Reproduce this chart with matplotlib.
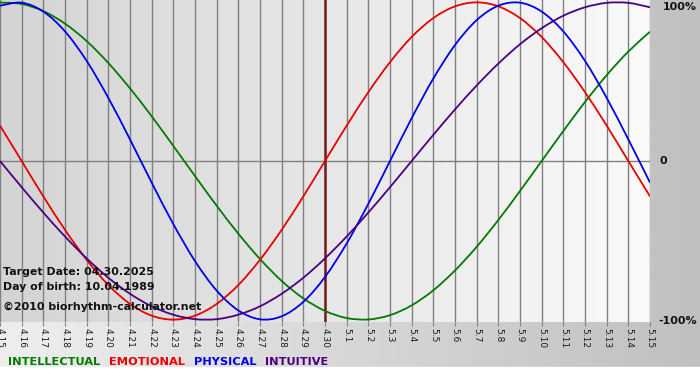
import numpy as np
import matplotlib
matplotlib.use("Agg")
import matplotlib.pyplot as plt
from matplotlib.path import Path
from matplotlib.patches import PathPatch

# days shown on the x axis (4.15 .. 5.15, target date 4.30)
day_labels = [f"4.{d}" for d in range(15, 31)] + [f"5.{d}" for d in range(1, 16)]
target_index = 15

# cycle values in percent, one per day
intellectual = [99.9, 99.0, 94.5, 86.6, 75.6, 61.8, 45.8, 28.2, 9.5, -9.5, -28.2,
                -45.8, -61.8, -75.6, -86.6, -94.5, -99.0, -99.9, -97.2, -91.0, -81.5,
                -69.0, -54.1, -37.2, -18.9, 0.0, 18.9, 37.2, 54.1, 69.0, 81.5]
emotional = [22.3, 0.0, -22.3, -43.4, -62.3, -78.2, -90.1, -97.5, -100.0, -97.5, -90.1,
             -78.2, -62.3, -43.4, -22.3, 0.0, 22.3, 43.4, 62.3, 78.2, 90.1,
             97.5, 100.0, 97.5, 90.1, 78.2, 62.3, 43.4, 22.3, 0.0, -22.3]
physical = [97.9, 99.8, 94.2, 81.7, 63.1, 39.8, 13.6, -13.6, -39.8, -63.1, -81.7,
            -94.2, -99.8, -97.9, -88.8, -73.1, -52.0, -27.0, 0.0, 27.0, 52.0,
            73.1, 88.8, 97.9, 99.8, 94.2, 81.7, 63.1, 39.8, 13.6, -13.6]
intuitive = [0.0, -16.5, -32.5, -47.6, -61.4, -73.6, -83.7, -91.6, -96.9, -99.7, -99.7,
             -96.9, -91.6, -83.7, -73.6, -61.4, -47.6, -32.5, -16.5, 0.0, 16.5,
             32.5, 47.6, 61.4, 73.6, 83.7, 91.6, 96.9, 99.7, 99.7, 96.9]

series = [
    ("INTELLECTUAL", intellectual, "#007a00"),
    ("EMOTIONAL", emotional, "#e60000"),
    ("PHYSICAL", physical, "#0000e6"),
    ("INTUITIVE", intuitive, "#4b0082"),
]


def smooth_path(xs, ys):
    # cubic bezier path passing through every point (catmull-rom style handles)
    pts = np.column_stack([xs, ys]).astype(float)
    n = len(pts)
    verts = [pts[0]]
    codes = [Path.MOVETO]
    for i in range(n - 1):
        p0 = pts[max(i - 1, 0)]
        p1 = pts[i]
        p2 = pts[i + 1]
        p3 = pts[min(i + 2, n - 1)]
        verts += [p1 + (p2 - p0) / 6, p2 - (p3 - p1) / 6, p2]
        codes += [Path.CURVE4] * 3
    return Path(verts, codes)


W, H = 700, 380
fig = plt.figure(figsize=(W / 100, H / 100), dpi=100)

# figure background: horizontal light-to-grey gradient, white strip at the bottom
bg = fig.add_axes([0, 0, 1, 1], zorder=-10)
grad = np.linspace(238, 192, 256)[None, :] / 255.0
bg.imshow(np.dstack([grad] * 3), extent=[0, 1, 0, 1], aspect="auto")
bg.axhspan(0, 13 / H, color="white")
bg.set_xlim(0, 1)
bg.set_ylim(0, 1)
bg.axis("off")

ax = fig.add_axes([0, 58 / H, 650 / W, 322 / H])
x = np.arange(len(day_labels))
ax.set_xlim(0, len(day_labels) - 1)
ax.set_ylim(-101.5, 101.5)

pgrad = np.linspace(212, 250, 256)[None, :] / 255.0
ax.imshow(np.dstack([pgrad] * 3), extent=[0, len(day_labels) - 1, -101.5, 101.5],
          aspect="auto", zorder=0)

for xi in x:
    ax.axvline(xi, color="#808080", lw=1.0, zorder=1)
ax.axhline(0, color="#808080", lw=1.0, zorder=1)
ax.axvline(target_index, color="#7a1a1a", lw=1.8, zorder=3)

for name, vals, col in series:
    ax.add_patch(PathPatch(smooth_path(x, vals), facecolor="none", edgecolor=col,
                           lw=1.3, zorder=4, clip_on=True))

for s in ax.spines.values():
    s.set_visible(False)
ax.set_yticks([])
ax.set_xticks(x)
ax.set_xticklabels(day_labels, rotation=-90, fontsize=6.5, color="#1a1a1a")
ax.tick_params(axis="x", length=3, width=0.8, color="#808080", pad=1)

bold = dict(fontweight="bold", color="#111111", fontsize=7.9)
ax.text(0.004, 1 - 272 / 322, "Target Date: 04.30.2025", transform=ax.transAxes,
        va="center", ha="left", zorder=5, **bold)
ax.text(0.004, 1 - 287 / 322, "Day of birth: 10.04.1989", transform=ax.transAxes,
        va="center", ha="left", zorder=5, **bold)
ax.text(0.004, 1 - 307 / 322, "\u00a92010 biorhythm-calculator.net", transform=ax.transAxes,
        va="center", ha="left", zorder=5, **bold)

fig.text(697 / W, 1 - 7 / H, "100%", ha="right", va="center", **bold)
fig.text(659 / W, 1 - 161 / H, "0", ha="left", va="center", **bold)
fig.text(697 / W, 1 - 321 / H, "-100%", ha="right", va="center", **bold)

# coloured legend words along the bottom
xpos = 8
for name, vals, col in series:
    t = fig.text(xpos / W, 1 - 362 / H, name, color=col, fontweight="bold",
                 fontsize=8.2, ha="left", va="center")
    fig.canvas.draw()
    bb = t.get_window_extent()
    xpos = bb.x1 + 9

fig.savefig("out.png", dpi=100)
